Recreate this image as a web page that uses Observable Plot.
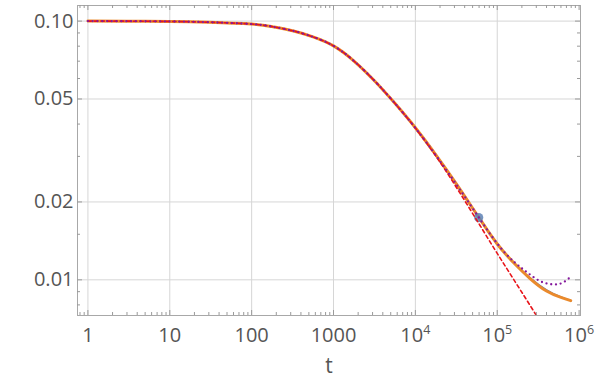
<!DOCTYPE html>
<html><head><meta charset="utf-8">
<script src="https://cdn.jsdelivr.net/npm/d3@7"></script>
<script src="https://cdn.jsdelivr.net/npm/@observablehq/plot@0.6"></script>
<style>
html,body{margin:0;padding:0;background:#fff;}
</style></head><body><div id="chart"></div>
<script>
// ---- data ----
const tMain   = [1, 3, 10, 30, 100, 178, 316, 562, 1000, 1778, 3162, 5623, 1e4, 17783, 31623, 56234, 1e5, 1.6e5, 2.5e5, 4e5, 6e5, 8e5];
const yBlue   = [0.1000, 0.09995, 0.0997, 0.0990, 0.0974, 0.0952, 0.0918, 0.0869, 0.0802, 0.0701, 0.0588, 0.0481, 0.0386, 0.0303, 0.0234, 0.0179, 0.01378, 0.01165, 0.0102, 0.00915, 0.00858, 0.00830];
const tOrange = [1, 3, 10, 30, 100, 178, 316, 562, 1000, 1778, 3162, 5623, 1e4, 17783, 31623, 56234, 1e5, 1.6e5, 2.5e5, 4e5, 6e5, 7.9e5];
const yOrange = [0.1000, 0.09995, 0.0997, 0.0990, 0.0974, 0.0952, 0.0918, 0.0869, 0.0802, 0.0701, 0.0588, 0.0481, 0.0387, 0.0304, 0.0235, 0.0179, 0.01376, 0.01162, 0.01014, 0.00905, 0.00855, 0.00831];
const tRed    = [1, 3, 10, 30, 100, 178, 316, 562, 1000, 1778, 3162, 5623, 1e4, 17783, 31623, 56234, 1e5, 1.78e5, 3.16e5, 5.62e5];
const yRed    = [0.1000, 0.09995, 0.0997, 0.0990, 0.0974, 0.0952, 0.0918, 0.0869, 0.0802, 0.0701, 0.0588, 0.0481, 0.0386, 0.0301, 0.0228, 0.0170, 0.01265, 0.00948, 0.0071, 0.0053];
const tPurple = [1, 3, 10, 30, 100, 178, 316, 562, 1000, 1778, 3162, 5623, 1e4, 17783, 31623, 56234, 1e5, 1.6e5, 2.3e5, 3.3e5, 4.5e5, 5.5e5, 6.5e5, 7.7e5];
const yPurple = [0.1000, 0.09995, 0.0997, 0.0990, 0.0974, 0.0952, 0.0918, 0.0869, 0.0802, 0.0701, 0.0588, 0.0481, 0.0386, 0.0303, 0.0234, 0.0179, 0.01380, 0.01175, 0.0107, 0.0099, 0.00962, 0.00962, 0.0098, 0.0102];
const pointT = [5.93e4];
const pointY = [0.0174];

const xMajor = [1, 10, 100, 1000, 1e4, 1e5, 1e6];
const xGrid  = [1, 10, 100, 1000, 1e4, 1e5];
const xMinorMult = [2, 3, 4, 5, 6, 7, 8, 9];
const xMinorDecades = [0.1, 1, 10, 100, 1000, 1e4, 1e5];
const yMajor = [0.01, 0.02, 0.05, 0.10];
const yMinor = [0.008, 0.009, 0.015, 0.03, 0.04, 0.06, 0.07, 0.08, 0.09];
const xDomain = [0.746, 1.04e6];
const yDomain = [0.00728, 0.1149];
const xTitle = "t";

// ---- layout ----
const W = 606, H = 390, mL = 77, mR = 26, mT = 5, mB = 75;
const plotW = W - mL - mR, plotH = H - mT - mB;

const rows = (ts, ys) => ts.map((t, i) => ({t, y: ys[i]}));
const xMinor = xMinorDecades.flatMap(d => xMinorMult.map(m => m * d)).filter(v => v > xDomain[0] && v < xDomain[1]);

const fmtX = d => d >= 1e4 ? `10^${Math.round(Math.log10(d))}` : String(d);
const tickCol = "#9a9a9a";
const gridCol = "#d6d6d6";
const crv = "natural";

const chart = Plot.plot({
  width: W, height: H,
  marginLeft: mL, marginRight: mR, marginTop: mT, marginBottom: mB,
  style: {fontFamily: "'Open Sans', 'Noto Sans', sans-serif", fontSize: "20px", color: "#555", background: "#fff"},
  x: {type: "log", domain: xDomain, axis: null},
  y: {type: "log", domain: yDomain, axis: null},
  marks: [
    Plot.ruleX(xGrid, {stroke: gridCol, strokeWidth: 1}),
    Plot.ruleY(yMajor, {stroke: gridCol, strokeWidth: 1}),
    Plot.line(rows(tMain, yBlue), {x: "t", y: "y", stroke: "#5e81b5", strokeWidth: 1.5, curve: crv, clip: true}),
    Plot.line(rows(tOrange, yOrange), {x: "t", y: "y", stroke: "#ea8a2c", strokeWidth: 3, curve: crv, clip: true}),
    Plot.dot(rows(pointT, pointY), {x: "t", y: "y", r: 4.6, fill: "#5e81b5", fillOpacity: 0.85, stroke: "none"}),
    Plot.line(rows(tRed, yRed), {x: "t", y: "y", stroke: "#e8141a", strokeWidth: 1.6, strokeDasharray: "3.5,3", curve: crv, clip: true}),
    Plot.line(rows(tPurple, yPurple), {x: "t", y: "y", stroke: "#84189c", strokeWidth: 2.3, strokeDasharray: "0,4.8", strokeLinecap: "round", curve: crv, clip: true}),
    Plot.frame({stroke: "#a8a8a8", strokeWidth: 1}),
    // inward ticks, bottom and top
    Plot.ruleX(xMajor, {stroke: tickCol, insetTop: plotH - 5}),
    Plot.ruleX(xMinor, {stroke: tickCol, insetTop: plotH - 3}),
    Plot.ruleX(xMajor, {stroke: tickCol, insetBottom: plotH - 5}),
    Plot.ruleX(xMinor, {stroke: tickCol, insetBottom: plotH - 3}),
    // inward ticks, left and right
    Plot.ruleY(yMajor, {stroke: tickCol, insetRight: plotW - 5}),
    Plot.ruleY(yMinor, {stroke: tickCol, insetRight: plotW - 3}),
    Plot.ruleY(yMajor, {stroke: tickCol, insetLeft: plotW - 5}),
    Plot.ruleY(yMinor, {stroke: tickCol, insetLeft: plotW - 3}),
    Plot.axisX(xMajor, {tickSize: 0, tickPadding: 12, tickFormat: fmtX, fill: "#555", fontSize: 20, label: null}),
    Plot.axisY(yMajor, {tickSize: 0, tickPadding: 4, tickFormat: d3.format(".2f"), fill: "#555", fontSize: 20, label: null}),
    Plot.text([xTitle], {text: d => d, frameAnchor: "bottom", dy: 57, fontSize: 21, fill: "#555"})
  ]
});

// superscript exponents on the x tick labels
d3.select(chart).selectAll('g[aria-label="x-axis tick label"] text').each(function() {
  const s = this.textContent;
  if (s.includes("^")) {
    const [base, exp] = s.split("^");
    const el = d3.select(this);
    el.text(null);
    el.append("tspan").text(base);
    el.append("tspan").attr("dy", -8).attr("font-size", "12.5px").text(exp);
  }
});

document.getElementById("chart").appendChild(chart);
</script>
</body></html>
